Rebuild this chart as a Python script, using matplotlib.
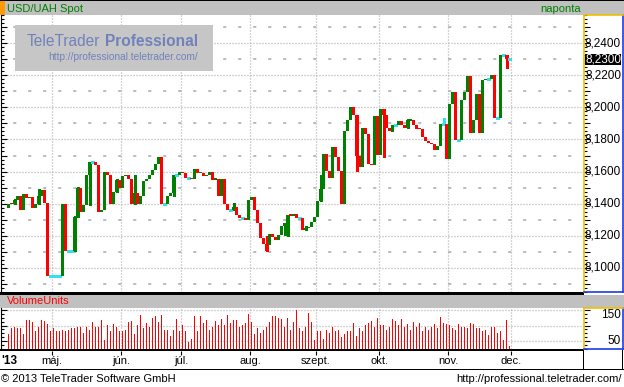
import numpy as np
import pandas as pd
import matplotlib
matplotlib.use('Agg')
import matplotlib.pyplot as plt
from matplotlib.patches import Rectangle
from matplotlib.transforms import blended_transform_factory

plt.rcParams['font.family'] = ['Liberation Sans', 'DejaVu Sans']
plt.rcParams['lines.scale_dashes'] = False

# ---- data (daily USD/UAH, business days from 10 Apr 2013) ----
start_date = '2013-04-10'

open_ = [8.1370, 8.1405, 8.1398, 8.1421, 8.1450, 8.1363, 8.1462, 8.1433, 8.1443, 8.1370,
         8.1400, 8.1450, 8.1487, 8.1404, 8.0948, 8.0948, 8.0948, 8.0948, 8.0948, 8.1400,
         8.1103, 8.1103, 8.1103, 8.1320, 8.1500, 8.1350, 8.1394, 8.1580, 8.1660, 8.1660,
         8.1640, 8.1350, 8.1360, 8.1600, 8.1580, 8.1400, 8.1474, 8.1550, 8.1500, 8.1573,
         8.1577, 8.1555, 8.1400, 8.1466, 8.1400, 8.1447, 8.1540, 8.1555, 8.1580, 8.1610,
         8.1650, 8.1689, 8.1398, 8.1398, 8.1447, 8.1466, 8.1577, 8.1577, 8.1600, 8.1590,
         8.1560, 8.1560, 8.1555, 8.1614, 8.1592, 8.1592, 8.1573, 8.1577, 8.1596, 8.1550,
         8.1553, 8.1447, 8.1553, 8.1400, 8.1359, 8.1363, 8.1381, 8.1330, 8.1311, 8.1311,
         8.1300, 8.1423, 8.1441, 8.1360, 8.1282, 8.1186, 8.1148, 8.1144, 8.1212, 8.1190,
         8.1171, 8.1206, 8.1262, 8.1280, 8.1330, 8.1326, 8.1336, 8.1311, 8.1311, 8.1235,
         8.1247, 8.1256, 8.1287, 8.1318, 8.1416, 8.1490, 8.1707, 8.1602, 8.1560, 8.1750,
         8.1690, 8.1602, 8.1400, 8.1850, 8.1924, 8.2004, 8.1955, 8.1700, 8.1629, 8.1874,
         8.1835, 8.1649, 8.1639, 8.1948, 8.1701, 8.1990, 8.1955, 8.1874, 8.1845, 8.1887,
         8.1887, 8.1918, 8.1887, 8.1869, 8.1918, 8.1924, 8.1893, 8.1868, 8.1868, 8.1814,
         8.1788, 8.1775, 8.1769, 8.1732, 8.1757, 8.1899, 8.1899, 8.1676, 8.2023, 8.2097,
         8.1794, 8.1794, 8.2047, 8.2097, 8.2196, 8.1839, 8.1924, 8.2085, 8.1839, 8.2171,
         8.2177, 8.2177, 8.2202, 8.1936, 8.1936, 8.2326, 8.2326, 8.2300]

close = [8.1400, 8.1398, 8.1421, 8.1450, 8.1363, 8.1462, 8.1433, 8.1443, 8.1370, 8.1400,
         8.1450, 8.1487, 8.1404, 8.0948, 8.0948, 8.0948, 8.0948, 8.0948, 8.1400, 8.1103,
         8.1103, 8.1103, 8.1320, 8.1500, 8.1350, 8.1394, 8.1580, 8.1660, 8.1660, 8.1640,
         8.1350, 8.1360, 8.1600, 8.1580, 8.1400, 8.1474, 8.1550, 8.1500, 8.1573, 8.1580,
         8.1555, 8.1400, 8.1466, 8.1400, 8.1447, 8.1540, 8.1555, 8.1580, 8.1610, 8.1650,
         8.1689, 8.1400, 8.1398, 8.1447, 8.1466, 8.1577, 8.1577, 8.1600, 8.1590, 8.1560,
         8.1560, 8.1555, 8.1614, 8.1592, 8.1594, 8.1573, 8.1577, 8.1596, 8.1550, 8.1553,
         8.1447, 8.1553, 8.1400, 8.1363, 8.1359, 8.1381, 8.1330, 8.1311, 8.1311, 8.1300,
         8.1423, 8.1441, 8.1360, 8.1282, 8.1186, 8.1148, 8.1103, 8.1212, 8.1190, 8.1171,
         8.1206, 8.1262, 8.1280, 8.1330, 8.1326, 8.1336, 8.1313, 8.1311, 8.1235, 8.1247,
         8.1256, 8.1287, 8.1318, 8.1416, 8.1490, 8.1707, 8.1602, 8.1560, 8.1750, 8.1690,
         8.1602, 8.1400, 8.1850, 8.1924, 8.2004, 8.1955, 8.1700, 8.1629, 8.1874, 8.1835,
         8.1649, 8.1639, 8.1948, 8.1701, 8.1990, 8.1955, 8.1874, 8.1852, 8.1887, 8.1887,
         8.1918, 8.1887, 8.1869, 8.1924, 8.1924, 8.1893, 8.1868, 8.1864, 8.1814, 8.1788,
         8.1775, 8.1769, 8.1732, 8.1757, 8.1899, 8.1899, 8.1676, 8.2023, 8.2097, 8.1794,
         8.1794, 8.2047, 8.2097, 8.2196, 8.1839, 8.1924, 8.2085, 8.1839, 8.2171, 8.2177,
         8.2177, 8.2202, 8.1936, 8.1936, 8.2326, 8.2326, 8.2300, 8.2300]

# wick extremes beyond the body (index -> price)
upper_wick = {2: 8.1430, 10: 8.1493, 22: 8.1325, 23: 8.1505, 36: 8.1556, 42: 8.1577,
              75: 8.1406, 86: 8.1196, 99: 8.1263, 104: 8.1577, 133: 8.1930, 145: 8.1936}
lower_wick = {27: 8.1394, 55: 8.1447, 92: 8.1206, 93: 8.1200, 116: 8.1602, 125: 8.1691,
              166: 8.2245}

volume = [74, 91, 94, 91, 91, 74, 117, 117, 110, 84,
          94, 117, 114, 104, 81, 91, 81, 81, 87, 84,
          87, 91, 91, 94, 97, 77, 94, 87, 110, 94,
          97, 117, 54, 101, 81, 104, 94, 81, 84, 87,
          110, 114, 74, 101, 134, 91, 107, 94, 124, 130,
          110, 134, 87, 87, 68, 87, 120, 84, 101, 81,
          48, 58, 130, 81, 130, 107, 117, 87, 94, 114,
          101, 120, 101, 134, 107, 117, 117, 97, 101, 107,
          137, 110, 74, 91,
          77, 87, 97, 110, 130, 130, 124, 120, 97, 124,
          87, 110, 150, 91, 81, 94, 140, 110, 54, 84,
          84, 58, 87, 77, 94, 84, 87, 64, 74, 84,
          84, 107, 68, 91, 81, 101, 107, 114, 94, 124,
          101, 101, 87, 94, 120, 114, 101, 120, 97, 104,
          87, 110, 97, 107, 84, 94, 87, 94, 104, 91,
          127, 107, 104, 101, 91, 87, 104, 97, 94, 91,
          107, 104, 91, 91, 84, 87, 71, 94, 94, 77,
          81, 54, 117, 35]

month_labels = ['máj.', 'jún.', 'júl.', 'aug.', 'szept.', 'okt.', 'nov.', 'dec.']
price_ticks = [8.10, 8.12, 8.14, 8.16, 8.18, 8.20, 8.22, 8.24]
last_price = close[-1]

# ---- layout helpers (pixel coordinates, origin top-left) ----
W, H = 624, 387
fig = plt.figure(figsize=(W / 100, H / 100), dpi=100)
fig.patch.set_facecolor('white')

GREEN = '#008000'
RED = '#ff0000'
CYAN = '#33e0ee'
GRID = '#a8a8a8'
BAND = '#c0c0c0'
YEL = '#f0c000'
BLUE = '#1a3ce8'
WM = '#7182ba'


def px_axes(x0, y0, x1, y1):
    return fig.add_axes([x0 / W, 1 - y1 / H, (x1 - x0) / W, (y1 - y0) / H])


def rect(x0, y0, x1, y1, color, z=0):
    fig.add_artist(Rectangle((x0 / W, 1 - y1 / H), (x1 - x0) / W, (y1 - y0) / H,
                             transform=fig.transFigure, facecolor=color,
                             edgecolor='none', zorder=z))


n = len(close)
xs = np.arange(n)
xlim = (-2, 192.33)
ylim = (8.0856, 8.2566)
vlim = (24.6, 156.6)

dates = pd.bdate_range(start_date, '2013-12-31')
month_pos = [i for i in range(1, len(dates)) if dates[i].month != dates[i - 1].month]
month_pos = month_pos[:len(month_labels)]

# ---- bands and frame lines ----
rect(0, 0, 624, 1, 'black')
rect(0, 1, 624, 15, BAND)
rect(0, 1, 5, 15, '#ff9900', 1)
rect(0, 292, 584, 295, 'black')
rect(0, 295, 624, 308, BAND)
rect(0, 349, 584, 351, 'black')
rect(0, 368.5, 624, 370, 'black')
rect(583, 350, 584, 370, 'black')
rect(622, 350, 623, 370, 'black')

fig.text(7 / W, 1 - 8.5 / H, 'USD/UAH Spot', color=GREEN, fontsize=8, va='center')
fig.text(581 / W, 1 - 8.5 / H, 'naponta', color=GREEN, fontsize=8, va='center', ha='right')
fig.text(7 / W, 1 - 301.5 / H, 'VolumeUnits', color=RED, fontsize=8, va='center')
fig.text(1 / W, 1 - 378.5 / H, '© 2013 TeleTrader Software GmbH', fontsize=8, va='center')
fig.text(622 / W, 1 - 379 / H, 'http://professional.teletrader.com/', fontsize=8,
         va='center', ha='right')

# ---- main price panel ----
ax = px_axes(1, 15, 584, 292)
ax.set_xlim(*xlim)
ax.set_ylim(*ylim)
for lvl in np.arange(8.09, 8.26, 0.01):
    if round(lvl * 100) % 2 == 0:
        ax.axhline(lvl, color=GRID, lw=0.9, ls=(0, (0.72, 1.44)), zorder=1)
    else:
        ax.axhline(lvl, color=GRID, lw=1.1, ls=(2, (2.2, 8.6)), zorder=1)
for p in month_pos:
    ax.axvline(p, color=GRID, lw=0.9, ls=(0, (0.72, 1.44)), zorder=1)

# watermark box over the grid
rect(15, 25, 213, 71, '#c6c6c6', 0.5)
fig.text(27 / W, 1 - 42 / H, 'TeleTrader', color=WM, fontsize=11.2,
         va='center', zorder=5)
fig.text(105 / W, 1 - 42 / H, 'Professional', color=WM, fontsize=11.2,
         va='center', fontweight='bold', zorder=5)
fig.text(198 / W, 1 - 57.5 / H, 'http://professional.teletrader.com/', color=WM,
         fontsize=7.3, va='center', ha='right', zorder=5)

min_h = 0.0007
for i in range(n):
    o, c = open_[i], close[i]
    hi = upper_wick.get(i, max(o, c))
    lo = lower_wick.get(i, min(o, c))
    if o == c:
        col = CYAN
    else:
        col = GREEN if c > o else RED
    if hi > max(o, c) or lo < min(o, c):
        ax.vlines(i + 0.5, lo, hi, color=col, lw=0.8, zorder=3, antialiased=False)
    if o == c:
        ax.hlines(c, i, i + 1, color=CYAN, lw=1.0, zorder=4, antialiased=False)
    else:
        b = min(o, c)
        h = max(abs(c - o), min_h)
        ax.bar(i, h, bottom=b, width=1.0, align='edge', color=col, zorder=4,
               linewidth=0, antialiased=False)

ax.set_xticks([])
ax.set_yticks(np.arange(8.09, 8.26, 0.01))
ax.set_yticks(np.arange(8.085, 8.26, 0.0025), minor=True)
ax.tick_params(axis='y', which='major', direction='in', length=4, width=0.8,
               labelleft=False, left=True)
ax.tick_params(axis='y', which='minor', direction='in', length=2.2, width=0.8)
for s in ['top', 'right', 'bottom']:
    ax.spines[s].set_visible(False)
ax.spines['left'].set_linewidth(0.8)

# right scale panel
axr = px_axes(584, 15, 623, 292)
axr.set_ylim(*ylim)
axr.set_xlim(0, 1)
axr.set_xticks([])
axr.set_yticks(np.arange(8.09, 8.26, 0.01))
axr.set_yticks(np.arange(8.085, 8.26, 0.0025), minor=True)
axr.tick_params(axis='y', which='major', direction='in', length=4, width=0.8,
                labelleft=False)
axr.tick_params(axis='y', which='minor', direction='in', length=2.2, width=0.8)
axr.spines['left'].set_color(YEL)
axr.spines['top'].set_color(YEL)
axr.spines['right'].set_color(BLUE)
axr.spines['bottom'].set_color(BLUE)
for s in axr.spines.values():
    s.set_linewidth(1.2)
tr = blended_transform_factory(axr.transAxes, axr.transData)
for v in price_ticks:
    axr.text(0.95, v, f'{v:.4f}'.replace('.', ','), transform=tr, ha='right',
             va='center', fontsize=8.5)
axr.add_patch(Rectangle((0.03, last_price - 0.0034), 0.92, 0.0068, transform=tr,
                        facecolor='black', edgecolor='none', zorder=5))
axr.text(0.95, last_price, f'{last_price:.4f}'.replace('.', ','), transform=tr,
         ha='right', va='center', fontsize=8.5, color='white', zorder=6)

# ---- volume panel ----
axv = px_axes(1, 308, 584, 349)
axv.set_xlim(*xlim)
axv.set_ylim(*vlim)
for lvl in [50, 100, 150]:
    axv.axhline(lvl, color=GRID, lw=0.9, ls=(0, (0.72, 1.44)), zorder=1)
for p in month_pos:
    axv.axvline(p, color=GRID, lw=0.9, ls=(0, (0.72, 1.44)), zorder=1)
axv.bar(xs + 0.5, volume, width=0.34, color=RED, zorder=3, linewidth=0,
        antialiased=False)
axv.set_xticks([])
axv.set_yticks([50, 100, 150])
axv.set_yticks(np.arange(25, 160, 12.5), minor=True)
axv.tick_params(axis='y', which='major', direction='in', length=4, width=0.8,
                labelleft=False)
axv.tick_params(axis='y', which='minor', direction='in', length=2.2, width=0.8)
for s in ['top', 'right', 'bottom']:
    axv.spines[s].set_visible(False)
axv.spines['left'].set_linewidth(0.8)

axvr = px_axes(584, 308, 623, 349)
axvr.set_ylim(*vlim)
axvr.set_xlim(0, 1)
axvr.set_xticks([])
axvr.set_yticks([50, 100, 150])
axvr.set_yticks(np.arange(25, 160, 12.5), minor=True)
axvr.tick_params(axis='y', which='major', direction='in', length=4, width=0.8,
                 labelleft=False)
axvr.tick_params(axis='y', which='minor', direction='in', length=2.2, width=0.8)
axvr.spines['left'].set_color(YEL)
axvr.spines['top'].set_color(YEL)
axvr.spines['right'].set_color(BLUE)
axvr.spines['bottom'].set_color(BLUE)
for s in axvr.spines.values():
    s.set_linewidth(1.2)
trv = blended_transform_factory(axvr.transAxes, axvr.transData)
axvr.text(0.95, 152, '150', transform=trv, ha='right', va='top', fontsize=8.5)
axvr.text(0.95, 50, '50', transform=trv, ha='right', va='center', fontsize=8.5)

# ---- date band ----
axd = px_axes(1, 351, 584, 368.5)
axd.set_xlim(*xlim)
axd.set_ylim(0, 1)
axd.axis('off')
for p, lab in zip(month_pos, month_labels):
    axd.text(p, 0.45, lab, ha='center', va='center', fontsize=8)
    axd.vlines(p, 0.8, 1.0, color='black', lw=0.8)
axd.text(0.0, 0.45, "'13", transform=axd.transAxes, ha='left', va='center',
         fontsize=8.5, fontweight='bold')

fig.savefig('out.png', dpi=100)
